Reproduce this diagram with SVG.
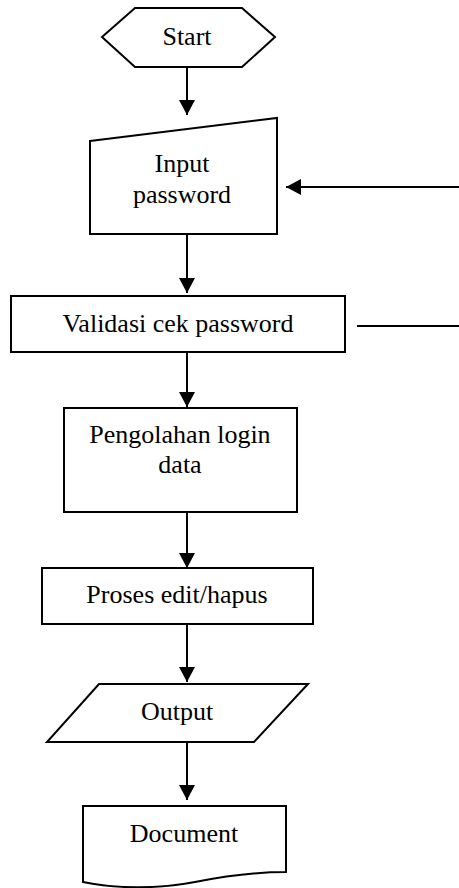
<svg xmlns="http://www.w3.org/2000/svg" width="459" height="888" viewBox="0 0 459 888">
<style>
.s{fill:#fff;stroke:#000;stroke-width:2}
.t{font-family:"Liberation Serif","Times New Roman",serif;font-size:26px;fill:#000;text-anchor:middle}
.c{stroke:#000;stroke-width:2;fill:none}
</style>
<defs>
<marker id="ah" markerUnits="userSpaceOnUse" markerWidth="15" markerHeight="16" refX="15" refY="8" orient="auto">
<path d="M0,0 L15,8 L0,16 z" fill="#000"/>
</marker>
</defs>
<rect width="459" height="888" fill="#fff"/>
<g id="connectors">
<line class="c" x1="187" y1="67" x2="187" y2="115" marker-end="url(#ah)"/>
<line class="c" x1="187" y1="234" x2="187" y2="293" marker-end="url(#ah)"/>
<line class="c" x1="187" y1="352" x2="187" y2="407" marker-end="url(#ah)"/>
<line class="c" x1="187" y1="512" x2="187" y2="568" marker-end="url(#ah)"/>
<line class="c" x1="187" y1="624" x2="187" y2="682" marker-end="url(#ah)"/>
<line class="c" x1="187" y1="742" x2="187" y2="800" marker-end="url(#ah)"/>
<line class="c" x1="459" y1="187" x2="286" y2="187" marker-end="url(#ah)"/>
<line class="c" x1="357" y1="326" x2="459" y2="326"/>
</g>
<g id="start">
<polygon class="s" points="102,37 135,8 242,8 275,37 242,67 135,67"/>
<text class="t" x="187" y="45">Start</text>
</g>
<g id="input">
<polygon class="s" points="90,141 277,118 277,234 90,234"/>
<text class="t" x="182" y="172">Input</text>
<text class="t" x="182" y="203">password</text>
</g>
<g id="validasi">
<rect class="s" x="11" y="296" width="334" height="56"/>
<text class="t" x="178" y="332">Validasi cek password</text>
</g>
<g id="pengolahan">
<rect class="s" x="64" y="408" width="233" height="104"/>
<text class="t" x="180" y="443">Pengolahan login</text>
<text class="t" x="180" y="473">data</text>
</g>
<g id="proses">
<rect class="s" x="42" y="568" width="271" height="56"/>
<text class="t" x="177" y="603">Proses edit/hapus</text>
</g>
<g id="output">
<polygon class="s" points="99,684 308,684 254,742 47,742"/>
<text class="t" x="177" y="720">Output</text>
</g>
<g id="document">
<path class="s" d="M83,806 L286,806 L286,872 C255,872 225,876 195,882 C160,889 115,889 83,882 Z"/>
<text class="t" x="184" y="842">Document</text>
</g>
</svg>
